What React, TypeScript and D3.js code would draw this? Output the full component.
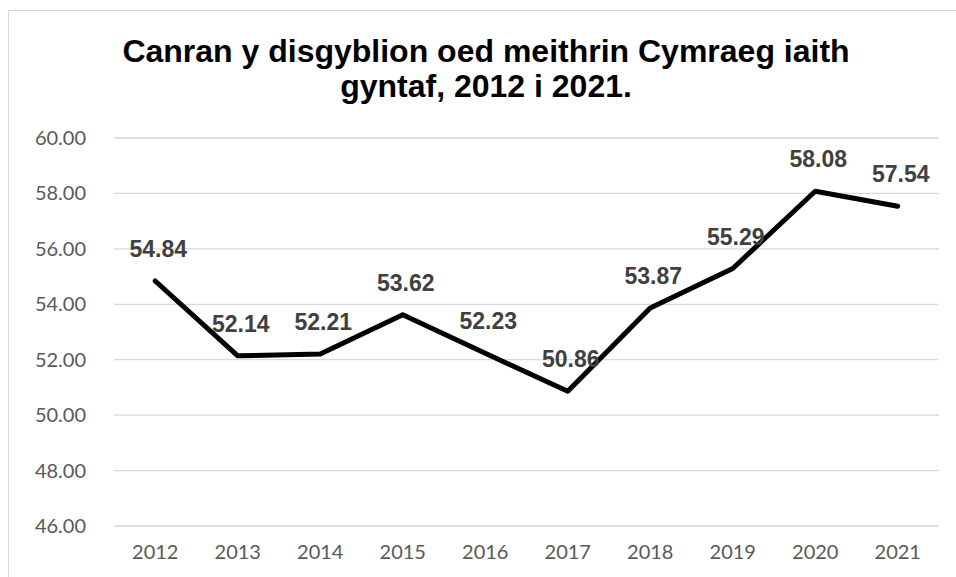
import * as d3 from 'd3';

const years = ['2012', '2013', '2014', '2015', '2016', '2017', '2018', '2019', '2020', '2021'];
const values = [54.84, 52.14, 52.21, 53.62, 52.23, 50.86, 53.87, 55.29, 58.08, 57.54];
const yTicks = [46, 48, 50, 52, 54, 56, 58, 60];
const titleLines = ['Canran y disgyblion oed meithrin Cymraeg iaith', 'gyntaf, 2012 i 2021.'];

export default function App() {
  const width = 956;
  const height = 577;
  const margin = { top: 138, right: 17, bottom: 51, left: 114 };

  const x = d3.scaleBand<string>()
    .domain(years)
    .range([margin.left, width - margin.right]);

  const y = d3.scaleLinear()
    .domain([46, 60])
    .range([height - margin.bottom, margin.top]);

  const cx = (d: string) => (x(d) || 0) + x.bandwidth() / 2;

  const line = d3.line<number>()
    .x((_, i) => cx(years[i]))
    .y(d => y(d));

  const tickFont = 'Lato, "Open Sans", sans-serif';

  return (
    <div style={{ position: 'absolute', left: 0, top: 0 }}>
      <svg width={width} height={height} style={{ display: 'block', background: '#fff' }}>
        {/* chart border */}
        <rect x={8.5} y={10.5} width={width + 10} height={height + 10} fill="none" stroke="#d9d9d9" />

        {/* title */}
        {titleLines.map((t, i) => (
          <text
            key={i}
            x={486}
            y={62 + i * 34.5}
            textAnchor="middle"
            fontFamily='"Liberation Sans", Arial, sans-serif'
            fontWeight="bold"
            fontSize={32}
            fill="#000"
          >
            {t}
          </text>
        ))}

        {/* gridlines + y labels */}
        {yTicks.map(t => (
          <g key={t}>
            <line
              x1={margin.left}
              x2={width - margin.right}
              y1={y(t)}
              y2={y(t)}
              stroke="#d9d9d9"
              strokeWidth={1.3}
            />
            <text
              x={86}
              y={y(t)}
              dy="0.35em"
              textAnchor="end"
              fontFamily={tickFont}
              fontSize={20}
              fill="#595959"
            >
              {t.toFixed(2)}
            </text>
          </g>
        ))}

        {/* x labels */}
        {years.map(yr => (
          <text
            key={yr}
            x={cx(yr)}
            y={559}
            textAnchor="middle"
            fontFamily={tickFont}
            fontSize={20}
            fill="#595959"
          >
            {yr}
          </text>
        ))}

        {/* series line */}
        <path
          d={line(values) || ''}
          fill="none"
          stroke="#000"
          strokeWidth={5}
          strokeLinejoin="round"
          strokeLinecap="round"
        />

        {/* data labels */}
        {values.map((v, i) => (
          <text
            key={years[i]}
            x={cx(years[i]) + 3}
            y={y(v) - 24}
            textAnchor="middle"
            fontFamily='"Liberation Sans", Arial, sans-serif'
            fontWeight="bold"
            fontSize={23}
            fill="#404040"
          >
            {v.toFixed(2)}
          </text>
        ))}
      </svg>
    </div>
  );
}
